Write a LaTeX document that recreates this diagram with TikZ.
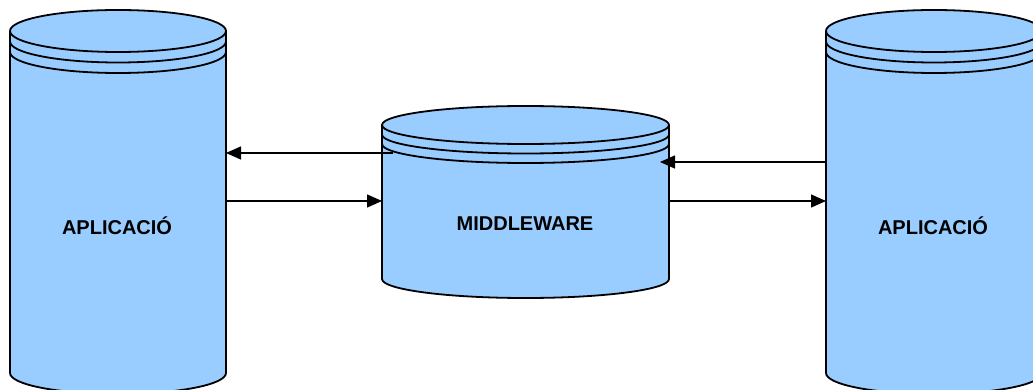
\documentclass[tikz,border=0pt]{standalone}
\usepackage{fontspec}
\setmainfont{Liberation Sans}
\usetikzlibrary{arrows.meta}
\definecolor{drumblue}{RGB}{153,204,255}
\tikzset{%
  label/.style={font=\fontsize{20}{22}\selectfont\bfseries, inner sep=0pt},
  link/.style={line width=1.4pt, -{Triangle[length=15pt, width=13pt]}},
  % cylinder: centre x, top y, x radius, y radius, bottom y, ring gap
  pics/drum/.style n args={6}{code={
    \fill[drumblue] (#1-#3,#2) -- (#1-#3,#5)
       arc[start angle=180, end angle=360, x radius=#3pt, y radius=#4pt]
       -- (#1+#3,#2)
       arc[start angle=0, end angle=180, x radius=#3pt, y radius=#4pt] -- cycle;
    \draw[line width=1.8pt] (#1-#3,#2) -- (#1-#3,#5)
       arc[start angle=180, end angle=360, x radius=#3pt, y radius=#4pt]
       -- (#1+#3,#2);
    \draw[line width=1.8pt] (#1,#2) ellipse[x radius=#3pt, y radius=#4pt];
    \draw[line width=1.8pt] (#1-#3,#2+#6)
       arc[start angle=180, end angle=360, x radius=#3pt, y radius=#4pt];
    \draw[line width=1.8pt] (#1-#3,#2+2*#6)
       arc[start angle=180, end angle=360, x radius=#3pt, y radius=#4pt];
  }},
}

\begin{document}
\begin{tikzpicture}[x=1pt, y=-1pt]
    \useasboundingbox (0,0) rectangle (1033,390);
    \clip (0,0) rectangle (1033,390);

    %the three cylinders
    \pic {drum={118}{31}{108}{21}{373}{10.5}};
    \pic {drum={525.5}{125}{143.5}{19}{279}{9.5}};
    \pic {drum={934}{31}{108}{21}{373}{10.5}};

    \node[label] (appL) at (117,226) {APLICACIÓ};
    \node[label] (mid) at (525,224) {MIDDLEWARE};
    \node[label] (appR) at (933,226) {APLICACIÓ};

    % ends of the links
    \coordinate (L1) at (226,153);
    \coordinate (L2) at (226,201);
    \coordinate (M1) at (393,153);
    \coordinate (M2) at (382,201);
    \coordinate (M3) at (660,162);
    \coordinate (M4) at (669,201);
    \coordinate (R1) at (826,162);
    \coordinate (R2) at (826,201);

    \draw[link] (M1) -- (L1);
    \draw[link] (L2) -- (M2);
    \draw[link] (R1) -- (M3);
    \draw[link] (M4) -- (R2);
\end{tikzpicture}
\end{document}
